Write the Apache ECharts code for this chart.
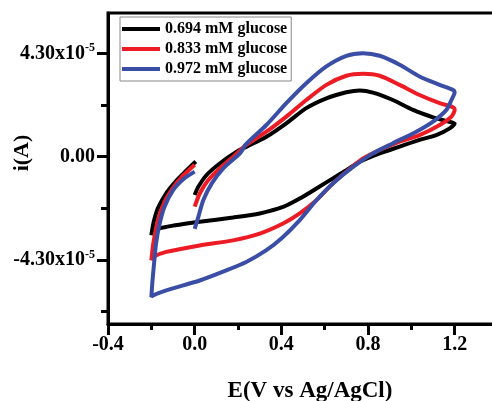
<!DOCTYPE html>
<html>
<head>
<meta charset="utf-8">
<script src="https://cdn.jsdelivr.net/npm/echarts@6/dist/echarts.min.js"></script>
<style>html,body{margin:0;padding:0;background:#fff;}#c{width:492px;height:401px;}</style>
</head>
<body>
<div id="c"></div>
<script>
// Potential E (V vs Ag/AgCl) and current i (units of 1e-5 A), in sweep order
const seriesNames = ['0.694 mM glucose', '0.833 mM glucose', '0.972 mM glucose'];

const E_694 = [0.000,0.017,0.055,0.117,0.194,0.240,0.331,0.423,0.515,0.608,0.700,0.762,0.823,0.915,1.008,1.100,1.162,1.200,
  1.177,1.115,1.038,0.946,0.854,0.762,0.700,0.638,0.562,0.485,0.408,0.300,0.177,0.023,-0.131,-0.192,-0.200,
  -0.190,-0.170,-0.130,-0.090,-0.050,0.005];
const I_694 = [-1.59,-1.25,-0.76,-0.27,0.21,0.42,0.83,1.39,2.02,2.43,2.68,2.76,2.67,2.36,1.95,1.64,1.48,1.38,
  1.18,0.90,0.70,0.42,0.14,-0.21,-0.56,-0.90,-1.32,-1.74,-2.09,-2.36,-2.53,-2.71,-2.92,-3.06,-3.27,
  -2.75,-2.15,-1.50,-1.05,-0.68,-0.20];

const E_833 = [0.000,0.024,0.063,0.117,0.178,0.238,0.331,0.423,0.515,0.608,0.700,0.777,0.854,0.946,1.038,1.131,1.192,1.200,
  1.185,1.131,1.038,0.946,0.854,0.777,0.708,0.638,0.562,0.485,0.408,0.300,0.177,0.023,-0.131,-0.192,-0.200,
  -0.190,-0.168,-0.140,-0.100,-0.055,0.000];
const I_833 = [-2.08,-1.52,-0.97,-0.48,0.00,0.49,1.04,1.67,2.36,2.99,3.37,3.45,3.37,2.99,2.57,2.23,2.06,1.95,
  1.67,1.32,0.90,0.63,0.28,-0.07,-0.56,-1.11,-1.81,-2.36,-2.78,-3.20,-3.48,-3.69,-3.96,-4.17,-4.31,
  -3.55,-2.60,-1.90,-1.30,-0.80,-0.33];

const E_972 = [0.000,0.017,0.040,0.079,0.132,0.209,0.238,0.331,0.423,0.515,0.608,0.700,0.777,0.854,0.946,1.038,1.131,1.192,1.200,
  1.185,1.162,1.100,1.023,0.915,0.823,0.731,0.638,0.562,0.485,0.408,0.331,0.238,0.146,0.023,-0.131,-0.192,-0.200,
  -0.195,-0.188,-0.178,-0.162,-0.140,-0.100,-0.050,0.000];
const I_972 = [-3.00,-2.50,-1.80,-1.11,-0.48,0.14,0.53,1.32,2.23,3.06,3.76,4.20,4.31,4.20,3.83,3.34,2.99,2.78,2.68,
  2.36,1.95,1.46,1.04,0.56,0.14,-0.42,-1.11,-1.81,-2.64,-3.34,-3.89,-4.38,-4.73,-5.15,-5.56,-5.77,-5.84,
  -5.20,-4.50,-3.60,-2.80,-2.10,-1.40,-0.92,-0.62];

const xTickLabels = ['-0.4', '0.0', '0.4', '0.8', '1.2'];
const yLabelValues = [-4.3, 0, 4.3];
const yMinorTickValues = [-6.45, -2.15, 2.15];

const colors = ['#000000', '#ed1c24', '#3b4ea6'];
const FONT = 'Liberation Serif';

const pairs = (E, I) => E.map((e, k) => [e, I[k]]);
const datasets = [pairs(E_694, I_694), pairs(E_833, I_833), pairs(E_972, I_972)];

const chart = echarts.init(document.getElementById('c'), null, {renderer: 'canvas'});
chart.setOption({
  animation: false,
  backgroundColor: '#fff',
  grid: {left: 108, top: 13, width: 390, height: 311, containLabel: false, outerBoundsMode: 'none',
    show: true, borderColor: '#000', borderWidth: 3, backgroundColor: 'transparent'},
  legend: {
    left: 120, top: 17, orient: 'vertical', icon: 'rect', itemWidth: 38, itemHeight: 4, itemGap: 4,
    padding: [4, 4, 4, 2], borderColor: '#888', borderWidth: 1,
    textStyle: {fontFamily: FONT, fontWeight: 'bold', fontSize: 16, lineHeight: 16, color: '#000'},
    data: seriesNames
  },
  graphic: [{
    type: 'text', x: 22, y: 153, rotation: Math.PI / 2,
    style: {text: 'i(A)', x: 0, y: 0, textAlign: 'center', textVerticalAlign: 'middle',
      font: 'bold 22px "Liberation Serif"', fill: '#000'}
  }],
  xAxis: {
    type: 'value', min: -0.4, max: 1.4, interval: 0.4,
    axisLine: {onZero: false, lineStyle: {color: '#000', width: 3}},
    axisTick: {length: 11, lineStyle: {width: 3, color: '#000'}},
    minorTick: {show: true, splitNumber: 2, length: 6, lineStyle: {width: 3, color: '#000'}},
    splitLine: {show: false},
    axisLabel: {
      margin: 11, showMaxLabel: false, color: '#000', fontFamily: FONT, fontWeight: 'bold', fontSize: 20,
      formatter: v => { const i = Math.round((v + 0.4) / 0.4); return xTickLabels[i] !== undefined ? xTickLabels[i] : ''; }
    },
    name: 'E(V vs Ag/AgCl)', nameLocation: 'middle', nameGap: 56,
    nameTextStyle: {fontFamily: FONT, fontWeight: 'bold', fontSize: 23, color: '#000', padding: [0, 0, 0, 14]}
  },
  yAxis: [{
    type: 'value', min: -6.96, max: 5.98, position: 'left',
    axisLine: {show: true, onZero: false, lineStyle: {color: '#000', width: 3}},
    axisTick: {show: true, length: 11, customValues: yLabelValues, lineStyle: {width: 3, color: '#000'}},
    splitLine: {show: false},
    axisLabel: {
      customValues: yLabelValues, margin: 13,
      formatter: v => Math.abs(v) < 1e-9 ? '{b|0.00}' : '{b|' + (v < 0 ? '-' : '') + Math.abs(v).toFixed(2) + 'x10}{s|-5}',
      rich: {
        b: {fontFamily: FONT, fontWeight: 'bold', fontSize: 20, lineHeight: 22, color: '#000'},
        s: {fontFamily: FONT, fontWeight: 'bold', fontSize: 12, lineHeight: 12, color: '#000', verticalAlign: 'top', padding: [0, 0, 8, 0]}
      }
    }
  }, {
    type: 'value', min: -6.96, max: 5.98, position: 'left', offset: 0,
    axisLine: {show: false, onZero: false},
    axisTick: {show: true, length: 7, customValues: yMinorTickValues, lineStyle: {width: 3, color: '#000'}},
    axisLabel: {show: false},
    splitLine: {show: false}
  }],
  series: datasets.map((d, k) => ({
    name: seriesNames[k], type: 'line', data: d, xAxisIndex: 0, yAxisIndex: 0,
    showSymbol: false, symbol: 'none', smooth: 0.25,
    lineStyle: {color: colors[k], width: 4}, itemStyle: {color: colors[k]}
  }))
});
</script>
</body>
</html>
